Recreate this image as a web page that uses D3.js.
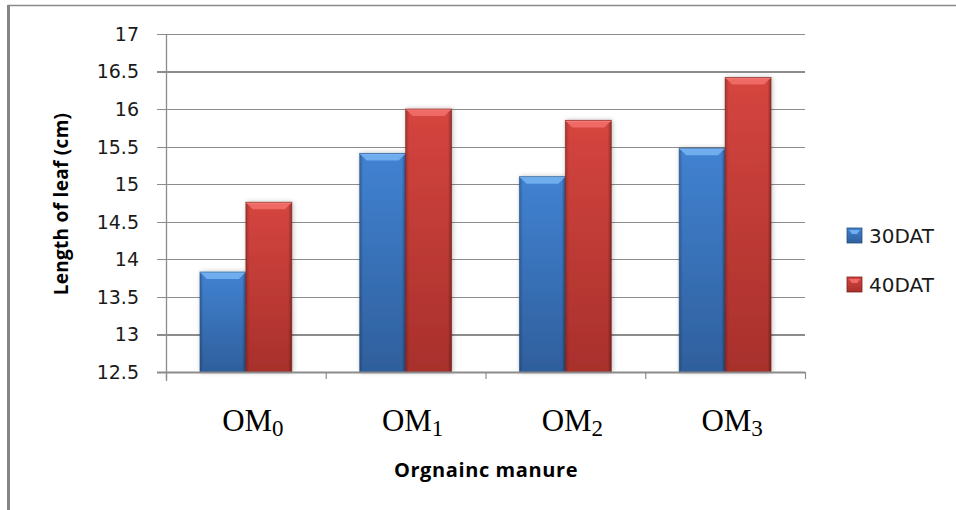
<!DOCTYPE html>
<html>
<head>
<meta charset="utf-8">
<script src="https://cdn.jsdelivr.net/npm/d3@7/dist/d3.min.js"></script>
<style>
  html, body { margin: 0; padding: 0; background: #fff; }
  svg { display: block; }
</style>
</head>
<body>
<svg id="chart" width="956" height="510"></svg>
<script>
// Leaf length by organic manure treatment, two sampling dates
const categories = ["0", "1", "2", "3"];          // subscript of OM label
const seriesNames = ["30DAT", "40DAT"];
const dat30 = [13.83, 15.41, 15.10, 15.48];
const dat40 = [14.76, 16.00, 15.85, 16.42];
const yTicks = [12.5, 13, 13.5, 14, 14.5, 15, 15.5, 16, 16.5, 17];

const svg = d3.select("#chart");
const W = 956, H = 510;
const plot = { left: 166, right: 805, top: 34, bottom: 372 };

const defs = svg.append("defs");
const palettes = [
  { name: "blue", light: "#7ab6f4", main: "#4182d2", dark: "#2f5f9c", edge: "#27507f", bevel: "#6fadef" },
  { name: "red",  light: "#f6847e", main: "#d5453f", dark: "#a8302c", edge: "#7a2220", bevel: "#f06b65" }
];
palettes.forEach(p => {
  const g = defs.append("linearGradient").attr("id", "v-" + p.name)
    .attr("x1", 0).attr("y1", 0).attr("x2", 0).attr("y2", 1);
  g.append("stop").attr("offset", "0%").attr("stop-color", p.main);
  g.append("stop").attr("offset", "100%").attr("stop-color", p.dark);
  const h = defs.append("linearGradient").attr("id", "h-" + p.name)
    .attr("x1", 0).attr("y1", 0).attr("x2", 1).attr("y2", 0);
  h.append("stop").attr("offset", "0%").attr("stop-color", "#000").attr("stop-opacity", 0.22);
  h.append("stop").attr("offset", "8%").attr("stop-color", "#000").attr("stop-opacity", 0);
  h.append("stop").attr("offset", "92%").attr("stop-color", "#000").attr("stop-opacity", 0);
  h.append("stop").attr("offset", "100%").attr("stop-color", "#000").attr("stop-opacity", 0.3);
});
const shadow = defs.append("filter").attr("id", "shadow")
  .attr("x", "-20%").attr("y", "-5%").attr("width", "140%").attr("height", "110%");
shadow.append("feGaussianBlur").attr("in", "SourceAlpha").attr("stdDeviation", 2.5).attr("result", "b");
shadow.append("feOffset").attr("in", "b").attr("dx", 1).attr("dy", 0).attr("result", "o");
shadow.append("feComponentTransfer").attr("in", "o").attr("result", "s")
  .append("feFuncA").attr("type", "linear").attr("slope", 0.25);
const merge = shadow.append("feMerge");
merge.append("feMergeNode").attr("in", "s");
merge.append("feMergeNode").attr("in", "SourceGraphic");

// Frame lines along the top and left edges
svg.append("line").attr("x1", 8).attr("x2", W).attr("y1", 5.5).attr("y2", 5.5)
  .attr("stroke", "#8a8a8a").attr("stroke-width", 1.5);
svg.append("line").attr("x1", 8.5).attr("x2", 8.5).attr("y1", 5).attr("y2", H)
  .attr("stroke", "#858585").attr("stroke-width", 3);

const y = d3.scaleLinear().domain([12.5, 17]).range([plot.bottom, plot.top]);
const x0 = d3.scaleBand().domain(categories).range([plot.left, plot.right])
  .paddingInner(0.425).paddingOuter(0.2125);
const x1 = d3.scaleBand().domain(seriesNames).range([0, x0.bandwidth()]);

// Gridlines with short ticks left of the axis
const grid = d3.axisLeft(y).tickValues(yTicks).tickSize(-(plot.right - plot.left)).tickFormat("");
svg.append("g").attr("transform", `translate(${plot.left},0)`).call(grid)
  .call(g => g.select(".domain").remove())
  .call(g => g.selectAll("line").attr("stroke", "#8c8c8c").attr("stroke-width", 1.3)
    .attr("x1", -9).attr("shape-rendering", "crispEdges"));

// Y tick labels
svg.append("g").selectAll("text").data(yTicks).join("text")
  .attr("x", 139).attr("y", d => y(d)).attr("dy", "0.36em")
  .attr("text-anchor", "end")
  .attr("font-family", "DejaVu Sans, Verdana, sans-serif").attr("font-size", 19)
  .attr("fill", "#1a1a1a").text(d => d);

// Y axis line
svg.append("line").attr("x1", plot.left + 0.5).attr("x2", plot.left + 0.5)
  .attr("y1", plot.top).attr("y2", plot.bottom + 9)
  .attr("stroke", "#8c8c8c").attr("stroke-width", 1.3);

// Bars
const data = categories.map((c, i) => ({ cat: c, vals: [dat30[i], dat40[i]] }));
const groups = svg.append("g").selectAll("g").data(data).join("g")
  .attr("transform", d => `translate(${x0(d.cat)},0)`);
groups.each(function(d) {
  const g = d3.select(this);
  d.vals.forEach((v, si) => {
    const p = palettes[si];
    const bx = x1(seriesNames[si]), bw = x1.bandwidth();
    const by = y(v), bh = y(12.5) - by;
    const bar = g.append("g").attr("filter", "url(#shadow)");
    bar.append("rect").attr("x", bx).attr("y", by).attr("width", bw).attr("height", bh)
      .attr("fill", `url(#v-${p.name})`);
    bar.append("rect").attr("x", bx).attr("y", by).attr("width", bw).attr("height", bh)
      .attr("fill", `url(#h-${p.name})`);
    // top bevel
    const b = 7;
    bar.append("path")
      .attr("d", `M${bx},${by} L${bx + bw},${by} L${bx + bw - b},${by + b} L${bx + b},${by + b} Z`)
      .attr("fill", p.bevel);
    bar.append("line").attr("x1", bx).attr("x2", bx + bw).attr("y1", by + 0.5).attr("y2", by + 0.5)
      .attr("stroke", p.light).attr("stroke-width", 1.5);
    // bottom bevel
    bar.append("path")
      .attr("d", `M${bx},${by + bh} L${bx + bw},${by + bh} L${bx + bw - b},${by + bh - b} L${bx + b},${by + bh - b} Z`)
      .attr("fill", p.dark).attr("opacity", 0.6);
    bar.append("rect").attr("x", bx).attr("y", by).attr("width", bw).attr("height", bh)
      .attr("fill", "none").attr("stroke", p.edge).attr("stroke-width", 1).attr("stroke-opacity", 0.6);
  });
});

// X axis line with category boundary ticks
svg.append("line").attr("x1", plot.left - 9).attr("x2", plot.right)
  .attr("y1", plot.bottom + 0.5).attr("y2", plot.bottom + 0.5)
  .attr("stroke", "#8c8c8c").attr("stroke-width", 2);
const bounds = d3.range(categories.length + 1).map(i => plot.left + i * (plot.right - plot.left) / categories.length);
svg.append("g").selectAll("line").data(bounds).join("line")
  .attr("x1", d => d + 0.5).attr("x2", d => d + 0.5)
  .attr("y1", plot.bottom).attr("y2", plot.bottom + 7)
  .attr("stroke", "#8c8c8c").attr("stroke-width", 1.2);

// Category labels: OM with subscript
const catLabels = svg.append("g").selectAll("text").data(categories).join("text")
  .attr("x", d => x0(d) + x0.bandwidth() / 2 + 7)
  .attr("y", 431)
  .attr("text-anchor", "middle")
  .attr("font-family", "Liberation Serif, Times New Roman, serif")
  .attr("font-size", 31).attr("fill", "#000");
catLabels.append("tspan").text("OM");
catLabels.append("tspan").attr("font-size", 23).attr("dy", 5).text(d => d);

// Axis titles
svg.append("text").attr("x", 486).attr("y", 477).attr("text-anchor", "middle")
  .attr("font-family", "Open Sans, Liberation Sans, sans-serif").attr("font-weight", "bold")
  .attr("font-size", 20).attr("letter-spacing", 0.6).attr("fill", "#000").text("Orgnainc manure");
svg.append("text").attr("transform", "translate(68,204) rotate(-90)").attr("text-anchor", "middle")
  .attr("font-family", "Open Sans, Liberation Sans, sans-serif").attr("font-weight", "bold")
  .attr("font-size", 19).attr("letter-spacing", 0.3).attr("fill", "#000").text("Length of leaf (cm)");

// Legend
const legend = svg.append("g").selectAll("g").data(seriesNames).join("g")
  .attr("transform", (d, i) => `translate(847,${228 + i * 49})`);
legend.append("rect").attr("width", 15).attr("height", 15)
  .attr("fill", (d, i) => `url(#v-${palettes[i].name})`)
  .attr("stroke", (d, i) => palettes[i].edge).attr("stroke-width", 0.8);
legend.append("path").attr("d", "M2,2 L13,2 L10,6 L5,6 Z")
  .attr("fill", (d, i) => palettes[i].bevel);
legend.append("text").attr("x", 22).attr("y", 15)
  .attr("font-family", "DejaVu Sans, Verdana, sans-serif").attr("font-size", 20)
  .attr("fill", "#1a1a1a").text(d => d);
</script>
</body>
</html>
